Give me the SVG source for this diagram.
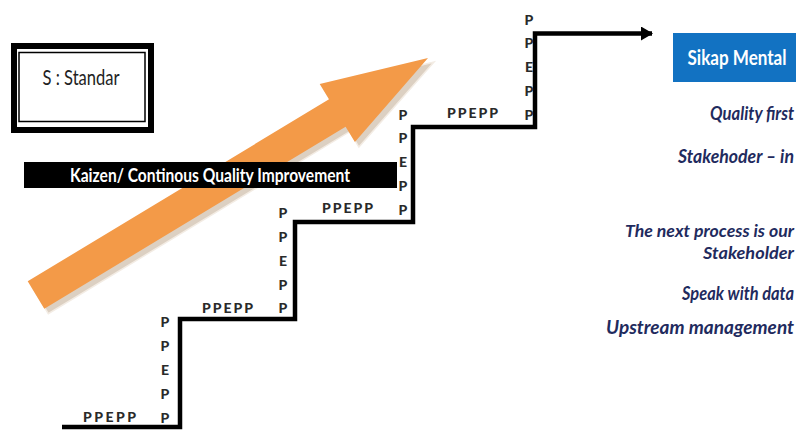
<svg xmlns="http://www.w3.org/2000/svg" width="798" height="430" viewBox="0 0 798 430">
  <style>
    .lbl { font-family: Lato, "Liberation Sans", Arial, sans-serif; font-weight: 900; font-size: 14px; fill: #2a2a2a; }
    .col { text-anchor: middle; }
    .mind { font-family: Lato, "Liberation Sans", Arial, sans-serif; font-weight: bold; font-style: italic; font-size: 17px; fill: #1f2b5e; text-anchor: end; }
    .stair { fill: none; stroke: #000; stroke-width: 4.5; stroke-linejoin: miter; }
  </style>
  <defs>
    <marker id="arrowEnd" viewBox="0 0 12 14" refX="11" refY="7" markerWidth="12" markerHeight="14" markerUnits="userSpaceOnUse" orient="auto">
      <path d="M0,0 L12,7 L0,14 Z" fill="#000"/>
    </marker>
  </defs>
  <rect width="798" height="430" fill="#fff"/>

  <g id="quality-arrow">
    <polygon points="31.7,286.3 333,104.3 323.7,88.9 434,62 358.9,147.1 349.6,131.7 48.3,313.7" fill="#dcd0c2" stroke="#f3ece4" stroke-width="1.5"/>
    <polygon points="27.7,281.3 329,99.3 319.7,83.9 428,58 354.9,142.1 345.6,126.7 44.3,308.7" fill="#f39a48"/>
  </g>

  <g id="standard-box">
    <rect x="14" y="46" width="137" height="84" fill="#fff" stroke="#000" stroke-width="6"/>
    <rect x="19" y="52.5" width="126" height="69" fill="none" stroke="#000" stroke-width="1.5"/>
    <text transform="translate(81,85) scale(1,1.15)" font-family="Lato, 'Liberation Sans', Arial, sans-serif" font-size="19" fill="#222" text-anchor="middle" textLength="77" lengthAdjust="spacingAndGlyphs">S : Standar</text>
  </g>

  <g id="kaizen-bar">
    <rect x="24" y="162" width="373" height="26" fill="#000"/>
    <text transform="translate(210,182) scale(1,1.12)" font-family="Lato, 'Liberation Sans', Arial, sans-serif" font-weight="bold" font-size="17" fill="#fff" text-anchor="middle" textLength="280" lengthAdjust="spacingAndGlyphs">Kaizen/ Continous Quality Improvement</text>
  </g>

  <g id="connectors">
    <path class="stair" d="M62,427 H180 V319 H295 V222 H413 V127 H535 V33.5 H652" marker-end="url(#arrowEnd)"/>
  </g>

  <g id="step-labels">
    <text class="lbl" x="83" y="422" textLength="53" lengthAdjust="spacing">PPEPP</text>
    <text class="lbl" x="202" y="313" textLength="51" lengthAdjust="spacing">PPEPP</text>
    <text class="lbl" x="322" y="213" textLength="51" lengthAdjust="spacing">PPEPP</text>
    <text class="lbl" x="447" y="118" textLength="51" lengthAdjust="spacing">PPEPP</text>

    <text class="lbl col" x="165" y="327">P</text>
    <text class="lbl col" x="165" y="351">P</text>
    <text class="lbl col" x="165" y="375">E</text>
    <text class="lbl col" x="165" y="399">P</text>
    <text class="lbl col" x="165" y="423">P</text>

    <text class="lbl col" x="283" y="218">P</text>
    <text class="lbl col" x="283" y="242">P</text>
    <text class="lbl col" x="283" y="266">E</text>
    <text class="lbl col" x="283" y="290">P</text>
    <text class="lbl col" x="283" y="313">P</text>

    <text class="lbl col" x="403" y="120">P</text>
    <text class="lbl col" x="403" y="143">P</text>
    <text class="lbl col" x="403" y="167">E</text>
    <text class="lbl col" x="403" y="191">P</text>
    <text class="lbl col" x="403" y="215">P</text>

    <text class="lbl col" x="529" y="25">P</text>
    <text class="lbl col" x="529" y="48">P</text>
    <text class="lbl col" x="529" y="72">E</text>
    <text class="lbl col" x="529" y="96">P</text>
    <text class="lbl col" x="529" y="120">P</text>
  </g>

  <g id="sikap-mental">
    <rect x="673" y="33" width="123" height="49" fill="#1272c2"/>
    <text transform="translate(737,65) scale(1,1.12)" font-family="Lato, 'Liberation Sans', Arial, sans-serif" font-weight="bold" font-size="18.5" fill="#fff" text-anchor="middle" textLength="99" lengthAdjust="spacingAndGlyphs">Sikap Mental</text>
  </g>

  <g id="mindset-items">
    <text class="mind" transform="translate(794,120) scale(1,1.12)" textLength="84" lengthAdjust="spacingAndGlyphs">Quality first</text>
    <text class="mind" transform="translate(794,163) scale(1,1.12)" textLength="116" lengthAdjust="spacingAndGlyphs">Stakehoder – in</text>
    <text class="mind" transform="translate(794,236.5) scale(1,1.05)" textLength="169" lengthAdjust="spacingAndGlyphs">The next process is our</text>
    <text class="mind" transform="translate(794,258.5) scale(1,1.05)" textLength="91" lengthAdjust="spacingAndGlyphs">Stakeholder</text>
    <text class="mind" transform="translate(794,300) scale(1,1.12)" textLength="112" lengthAdjust="spacingAndGlyphs">Speak with data</text>
    <text class="mind" transform="translate(794,334) scale(1,1.12)" textLength="188" lengthAdjust="spacingAndGlyphs">Upstream management</text>
  </g>
</svg>
